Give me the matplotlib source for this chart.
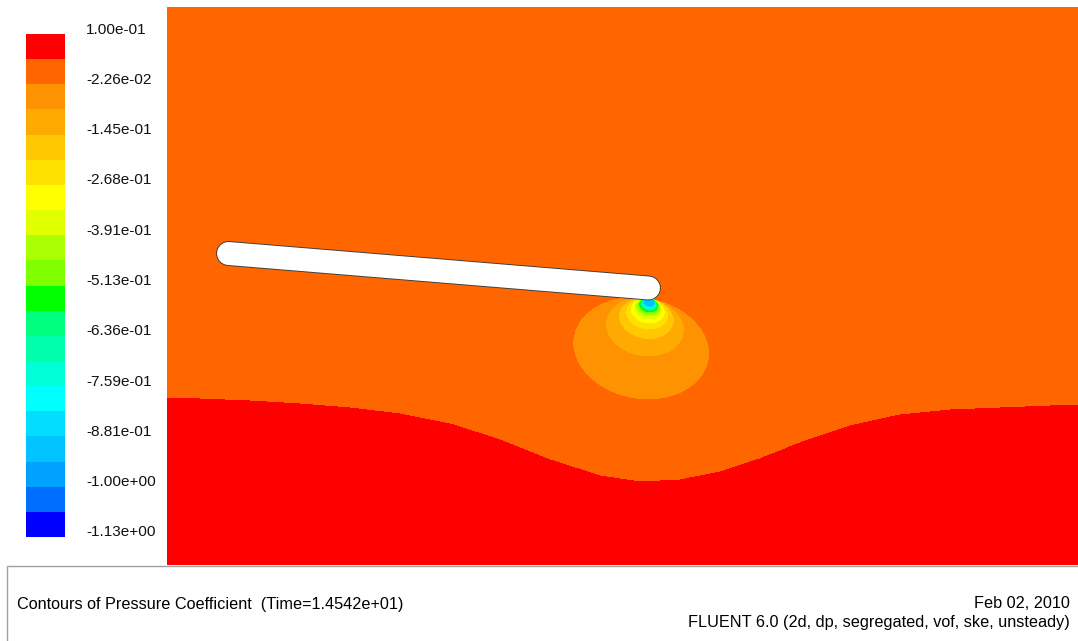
import numpy as np
import matplotlib
matplotlib.use("Agg")
import matplotlib.pyplot as plt
import matplotlib.patheffects as pe
from matplotlib.colors import ListedColormap, BoundaryNorm
from matplotlib.patches import Rectangle

plt.rcParams['font.family'] = ['Liberation Sans', 'DejaVu Sans']

# contour levels (20 bands, FLUENT style)
cp_max = 0.10004
cp_min = -1.12656
n_bands = 20

# band colours, lowest level first
band_colors = ['#0000ff', '#006eff', '#00a2ff', '#00c4ff', '#00ddff',
               '#00ffff', '#00ffd4', '#00ffaa', '#00ff7f', '#00ff00',
               '#7fff00', '#aaff00', '#e0ff00', '#ffff00', '#ffe100',
               '#ffc800', '#ffaa00', '#ff9200', '#ff6600', '#ff0000']

# domain extent (m)
domain_x = 9.11
domain_y = 5.58

# free surface read along the domain
surface_x = [0.00, 0.33, 0.83, 1.33, 1.83, 2.33, 2.83, 3.33, 3.83, 4.33,
             4.73, 5.13, 5.53, 5.93, 6.33, 6.83, 7.33, 7.83, 8.33, 8.83, 9.11]
surface_y = [1.67, 1.66, 1.64, 1.61, 1.57, 1.51, 1.41, 1.25, 1.05, 0.89,
             0.83, 0.85, 0.93, 1.06, 1.22, 1.39, 1.50, 1.55, 1.57, 1.59, 1.60]

# flat plate: end centres and thickness
plate_x = [0.615, 4.815]
plate_y = [3.115, 2.770]
plate_thick = 0.23

# suction near the trailing tip
tip_x, tip_y = 4.83, 2.67
tip_strength = 0.0858
tip_offset = 0.0615
tip_stretch = 1.35
tip_tilt = np.radians(10)
cp_far = 0.0
cp_water = 0.07
cp_floor = -0.9

levels = np.linspace(cp_min, cp_max, n_bands + 1)

xg = np.linspace(0, domain_x, 1823)
yg = np.linspace(0, domain_y, 1117)
X, Y = np.meshgrid(xg, yg)

# dipole-like suction lobe hanging below the tip
dx = X - tip_x
dy = Y - tip_y
along = -dx * np.sin(tip_tilt) - dy * np.cos(tip_tilt)
across = dx * np.cos(tip_tilt) - dy * np.sin(tip_tilt)
lobe = -tip_strength * along / ((across / tip_stretch) ** 2 + along ** 2 + 1e-6)
cp = np.minimum(cp_far, tip_offset + lobe)
cp = np.maximum(cp, cp_floor)

# water below the free surface
surf = np.interp(X, surface_x, surface_y)
cp[Y < surf] = cp_water

fig = plt.figure(figsize=(10.78, 6.41), dpi=100)
ax = fig.add_axes([167 / 1078, 76 / 641, 911 / 1078, 558 / 641])

cmap = ListedColormap(band_colors)
norm = BoundaryNorm(levels, cmap.N)
cs = ax.contourf(X, Y, cp, levels=levels, cmap=cmap, norm=norm)

lw = plate_thick * 100 * 72 / 100
ax.plot(plate_x, plate_y, color='white', lw=lw, solid_capstyle='round', zorder=5,
        path_effects=[pe.Stroke(linewidth=lw + 1.3, foreground='#3a3a3a'), pe.Normal()])

ax.set_xlim(0, domain_x)
ax.set_ylim(0, domain_y)
ax.axis('off')

# colour scale on the left
cax = fig.add_axes([26 / 1078, 104 / 641, 39 / 1078, 503 / 641])
cb = fig.colorbar(cs, cax=cax)
cb.outline.set_visible(False)
cax.minorticks_off()
cax.tick_params(which='both', length=0, labelright=False, labelleft=False)
cax.set_yticks([])
for v in levels[::2]:
    frac = (v - cp_min) / (cp_max - cp_min) + 4.5 / 503
    cax.text(60 / 39, frac, f'{v:.2e}', transform=cax.transAxes,
             ha='left', va='center', fontsize=11.1, color='#111111')

# caption box
fig.patches.append(Rectangle((7 / 1078, -0.1), 1.2, 75 / 641 + 0.1, transform=fig.transFigure,
                             fill=False, edgecolor='#a0a0a0', lw=1))
fig.text(17 / 1078, 37 / 641, 'Contours of Pressure Coefficient  (Time=1.4542e+01)',
         ha='left', va='center', fontsize=11.7)
fig.text(1070 / 1078, 37 / 641, 'Feb 02, 2010', ha='right', va='center', fontsize=11.7)
fig.text(1070 / 1078, 19 / 641, 'FLUENT 6.0 (2d, dp, segregated, vof, ske, unsteady)',
         ha='right', va='center', fontsize=11.7)

fig.savefig('out.png', dpi=100)
